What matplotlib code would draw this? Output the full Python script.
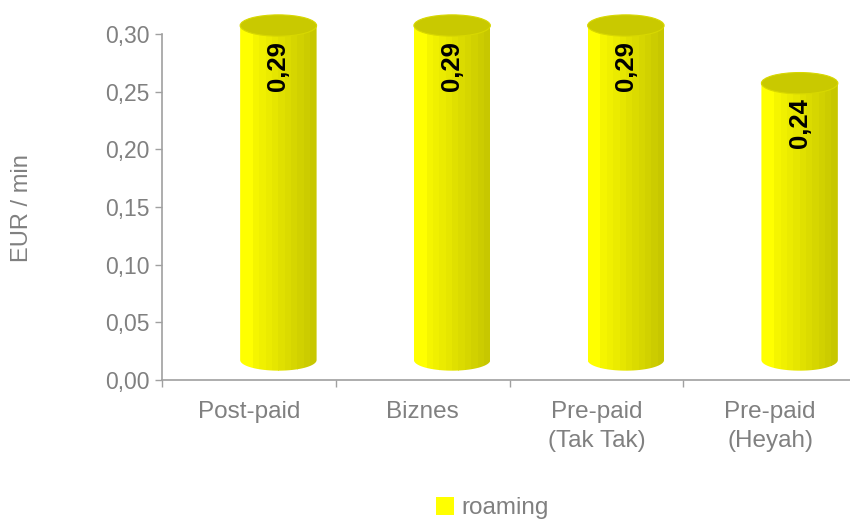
import numpy as np
import matplotlib
matplotlib.use("Agg")
import matplotlib.pyplot as plt
import matplotlib.transforms as mtransforms
from matplotlib.patches import Ellipse, PathPatch, Patch
from matplotlib.path import Path

plt.rcParams["font.family"] = ["Liberation Sans", "DejaVu Sans"]

categories = ["Post-paid", "Biznes", "Pre-paid\n(Tak Tak)", "Pre-paid\n(Heyah)"]
values = [0.29, 0.29, 0.29, 0.24]
value_labels = ["0,29", "0,29", "0,29", "0,24"]
y_ticks = [0.00, 0.05, 0.10, 0.15, 0.20, 0.25, 0.30]
y_tick_labels = ["0,00", "0,05", "0,10", "0,15", "0,20", "0,25", "0,30"]
series_name = "roaming"

GREY = "#808080"
AXIS_GREY = "#a0a0a0"
BAR_WIDTH = 0.44
ELL_H = 0.0185  # ellipse height in data units (cylinder caps)
N_STRIPS = 12


def strip_colours(n):
    shade = np.concatenate([[1.0, 1.0], np.linspace(0.96, 0.78, n - 2)])
    return [(s, s, 0.0) for s in shade]


def draw_cylinder(ax, x, value, trans):
    left = x - BAR_WIDTH / 2
    a = BAR_WIDTH / 2
    # silhouette: rectangle plus lower half of the bottom ellipse
    t = np.linspace(np.pi, 2 * np.pi, 40)
    verts = [(left, value), (left, 0)]
    verts += list(zip(x + a * np.cos(t), (ELL_H / 2) * np.sin(t)))
    verts += [(left + BAR_WIDTH, value), (left, value)]
    codes = [Path.MOVETO] + [Path.LINETO] * (len(verts) - 2) + [Path.CLOSEPOLY]
    clip = PathPatch(Path(verts, codes), transform=trans, facecolor="none",
                     edgecolor="none", clip_on=False)
    ax.add_patch(clip)

    w = BAR_WIDTH / N_STRIPS
    for k, col in enumerate(strip_colours(N_STRIPS)):
        bars = ax.bar(left + k * w, value + ELL_H, width=w * 1.02, bottom=-ELL_H,
                      align="edge", color=col, linewidth=0, transform=trans,
                      zorder=2)
        for b in bars:
            b.set_clip_path(clip)
            b.set_clip_box(None)

    top = Ellipse((x, value), BAR_WIDTH, ELL_H, transform=trans,
                  facecolor="#c9c900", edgecolor="#d8d800", linewidth=0.8,
                  zorder=3, clip_on=False)
    ax.add_patch(top)


def main():
    fig = plt.figure(figsize=(8.5, 5.19), dpi=100)
    ax = fig.add_axes([162 / 850, 139 / 519, 695 / 850, 346 / 519])

    offset = mtransforms.ScaledTranslation(0.295, 0.20, fig.dpi_scale_trans)
    bar_trans = ax.transData + offset

    x = np.arange(len(categories))
    for xi, v, lab in zip(x, values, value_labels):
        draw_cylinder(ax, xi, v, bar_trans)
        ax.annotate(lab, xy=(xi, v), xycoords=bar_trans, xytext=(0, -11),
                    textcoords="offset points", rotation=90, ha="center",
                    va="top", fontsize=18.5, fontweight="bold", color="black",
                    zorder=4, annotation_clip=False)

    ax.set_xlim(-0.5, len(categories) - 0.5)
    ax.set_ylim(0, 0.30)

    ax.set_yticks(y_ticks)
    ax.set_yticklabels(y_tick_labels)
    ax.set_xticks(np.arange(len(categories) + 1) - 0.5)
    ax.set_xticklabels([])
    ax.set_xticks(x, minor=True)
    ax.set_xticklabels(categories, minor=True, linespacing=1.4)

    ax.tick_params(axis="y", colors=AXIS_GREY, labelcolor=GREY, labelsize=16.5,
                   length=5, width=1, pad=4)
    ax.tick_params(axis="x", which="major", colors=AXIS_GREY, length=5, width=1)
    ax.tick_params(axis="x", which="minor", length=0, labelcolor=GREY,
                   labelsize=17.5, pad=15)

    for side in ("top", "right"):
        ax.spines[side].set_visible(False)
    for side in ("left", "bottom"):
        ax.spines[side].set_color(AXIS_GREY)
        ax.spines[side].set_linewidth(1.2)

    fig.text(22 / 850, 1 - 208 / 519, "EUR / min", rotation=90, ha="center",
             va="center", fontsize=17, color=GREY)

    handle = Patch(facecolor="#ffff00", edgecolor="none")
    fig.legend([handle], [series_name], loc="center",
               bbox_to_anchor=(492 / 850, 1 - 508 / 519), frameon=False,
               fontsize=17.5, labelcolor=GREY, handlelength=0.75,
               handleheight=0.75, handletextpad=0.3)

    fig.savefig("out.png", dpi=100)


if __name__ == "__main__":
    main()
